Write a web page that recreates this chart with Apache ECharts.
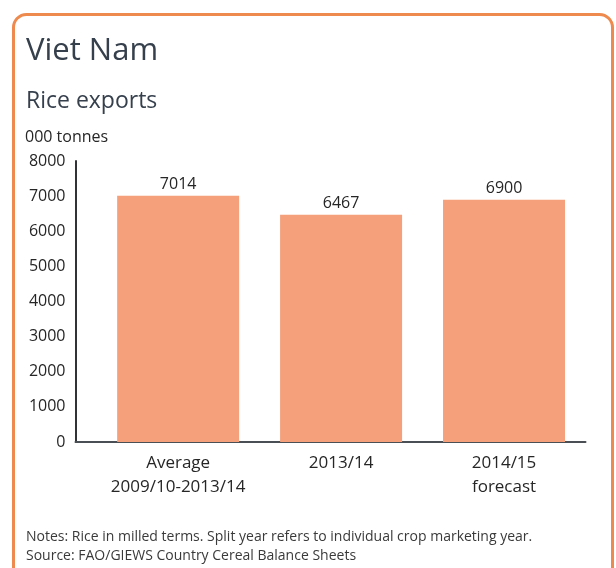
<!DOCTYPE html>
<html>
<head>
<meta charset="utf-8">
<script src="https://cdn.jsdelivr.net/npm/echarts@6/dist/echarts.min.js"></script>
<style>
  html, body { margin: 0; padding: 0; background: #ffffff; }
  #chart { width: 616px; height: 568px; }
</style>
</head>
<body>
<div id="chart"></div>
<script>
// Viet Nam rice exports, thousand tonnes
const categories = ['Average\n2009/10-2013/14', '2013/14', '2014/15\nforecast'];
const exportValues = [7014, 6467, 6900];
const yTicks = { min: 0, max: 8000, step: 1000 };

const FONT = '"Open Sans", "Noto Sans", sans-serif';
const TEXT = '#262626';

// bars sit at positions 1..n on a numeric x scale so the axis line can run past the first bar
const barPoints = exportValues.map((v, i) => [i + 1, v]);
const positions = categories.map((c, i) => i + 1);

const chart = echarts.init(document.getElementById('chart'), null, { renderer: 'canvas' });

chart.setOption({
  backgroundColor: '#ffffff',
  animation: false,
  textStyle: { fontFamily: FONT },
  grid: { left: 75.5, right: 30.5, top: 161, bottom: 126 },
  xAxis: {
    type: 'value',
    min: 0.37,
    max: 3.5,
    splitLine: { show: false },
    axisTick: { show: false },
    axisLine: { show: true, onZero: false, lineStyle: { color: '#4a4f55', width: 2 } },
    axisLabel: {
      customValues: positions,
      formatter: v => categories[Math.round(v) - 1] || '',
      fontFamily: FONT,
      fontSize: 17,
      lineHeight: 24,
      color: TEXT,
      margin: 9
    }
  },
  yAxis: {
    type: 'value',
    min: yTicks.min,
    max: yTicks.max,
    interval: yTicks.step,
    splitLine: { show: false },
    axisTick: { show: false },
    axisLine: { show: true, lineStyle: { color: '#2f3338', width: 2 } },
    axisLabel: {
      formatter: v => String(v),
      fontFamily: FONT, fontSize: 16, color: TEXT, margin: 10
    }
  },
  series: [{
    type: 'bar',
    data: barPoints,
    barWidth: 122,
    itemStyle: { color: '#F5A07A' },
    label: {
      show: true,
      position: 'top',
      distance: 3,
      formatter: p => String(p.value[1]),
      fontFamily: FONT,
      fontSize: 16,
      color: TEXT
    }
  }],
  graphic: [
    {
      type: 'rect',
      silent: true,
      shape: { x: 13.5, y: 14.5, width: 599, height: 620, r: 13 },
      style: { fill: 'none', stroke: '#EE8A4E', lineWidth: 3 }
    },
    {
      type: 'text', left: 26, top: 36,
      style: { text: 'Viet Nam', font: '31px ' + FONT, fill: '#36404d' }
    },
    {
      type: 'text', left: 26, top: 90,
      style: { text: 'Rice exports', font: '23px ' + FONT, fill: '#36404d' }
    },
    {
      type: 'text', left: 25, top: 129,
      style: { text: '000 tonnes', font: '16px ' + FONT, fill: TEXT }
    },
    {
      type: 'text', left: 26, top: 528,
      style: {
        text: 'Notes: Rice in milled terms. Split year refers to individual crop marketing year.\nSource: FAO/GIEWS Country Cereal Balance Sheets',
        font: '14px ' + FONT, lineHeight: 18.5, fill: '#3a3a3a'
      }
    }
  ]
});
</script>
</body>
</html>
